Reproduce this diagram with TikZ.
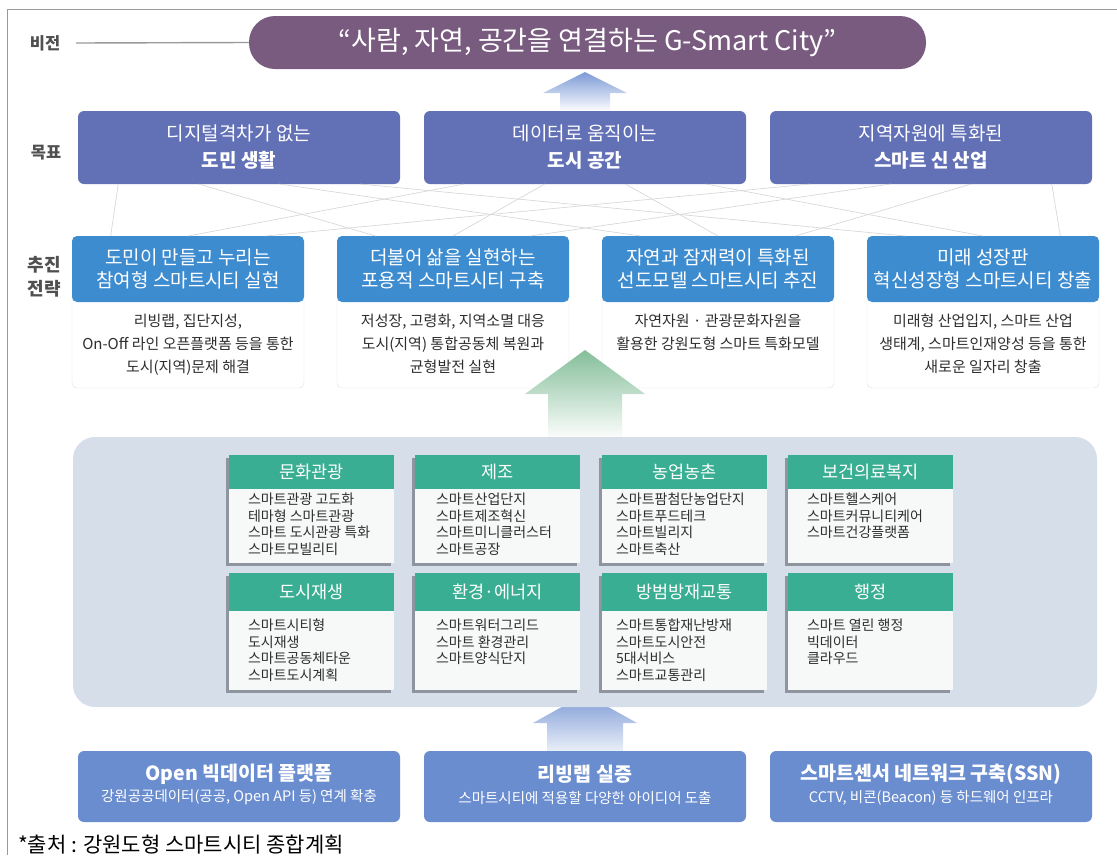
\documentclass[tikz,border=0pt]{standalone}
\usepackage{fontspec}
\setmainfont{Noto Sans CJK KR}
\usetikzlibrary{calc}
\definecolor{visionC}{HTML}{7A5B80}
\definecolor{goalC}{HTML}{6270B6}
\definecolor{stratC}{HTML}{3E8CD0}
\definecolor{secC}{HTML}{3AAE93}
\definecolor{panelC}{HTML}{D6DEE9}
\definecolor{secBody}{HTML}{F7F8F8}
\definecolor{shadowC}{HTML}{8E959F}
\definecolor{baseC}{HTML}{6A8DD0}
\definecolor{labelC}{HTML}{505050}
\definecolor{bodyT}{HTML}{2E2E2E}
\definecolor{arrBlue}{HTML}{7C9AD6}
\definecolor{arrGreen}{HTML}{84BE99}
\definecolor{frameC}{HTML}{9A9A9A}
\newcommand\sectorbox[9]{%
  \fill[shadowC] (#2-3,#3+3) rectangle (#2+165-3,#3+#4+#5+3);
  \node[secb, minimum height=#5pt] (#1b) at (#2,#3+#4) {};
  \node[sech, minimum height=#4pt] (#1h) at (#2,#3) {#6};
  \node[sect] (#1t) at ($(#1b.north west)+(#9,#8)$) {#7};
}
\newcommand\stratbox[4]{%
  \node[strb] (#1b) at (#2,296) {};
  \node[strh] (#1) at (#2,236) {#3};
  \node[strt] (#1t) at ($(#1b.north)+(0,18)$) {#4};
}
\begin{document}
\begin{tikzpicture}[x=1pt,y=-1pt,
  every node/.style={inner sep=0pt, outer sep=0pt},
  lbl/.style={text=labelC, font=\bfseries\fontsize{16.5}{24}\selectfont, align=center},
  goal/.style={fill=goalC, rounded corners=6pt, minimum width=322pt, minimum height=73pt, anchor=north west, text=white, align=center, font=\fontsize{19}{27}\selectfont},
  strh/.style={fill=stratC, rounded corners=5pt, minimum width=232pt, minimum height=66pt, anchor=north west, text=white, align=center, font=\fontsize{19}{23}\selectfont},
  strb/.style={fill=white, draw=black!12, rounded corners=5pt, minimum width=232pt, minimum height=92pt, anchor=north west},
  strt/.style={anchor=north, align=center, text=bodyT, font=\fontsize{15}{23}\selectfont},
  sech/.style={fill=secC, minimum width=165pt, anchor=north west, text=white, font=\fontsize{17.5}{20}\selectfont},
  secb/.style={fill=secBody, minimum width=165pt, anchor=north west},
  sect/.style={anchor=north west, align=left, text=bodyT, font=\fontsize{14}{16.5}\selectfont},
  base/.style={fill=baseC, rounded corners=6pt, minimum width=322pt, minimum height=71pt, anchor=north west},
  basetitle/.style={text=white, font=\bfseries\fontsize{19.5}{22}\selectfont},
  basesub/.style={text=white, font=\fontsize{14.5}{16}\selectfont},
  latt/.style={draw=black!17, line width=0.6pt},
]
\useasboundingbox (0,0) rectangle (1117,855);
\fill[white] (0,0) rectangle (1117,855);
% frame
\draw[frameC, line width=1pt] (7,855) -- (7,9) -- (1117,9);

% vision
\node[fill=visionC, rounded corners=26pt, minimum width=677pt, minimum height=53pt, anchor=north west, text=white, font=\fontsize{27}{30}\selectfont] (vision) at (249,16) {“사람, 자연, 공간을 연결하는 G-Smart City”};
\node[lbl] (lv) at (45,43) {비전};
\draw[frameC, line width=1.4pt] ([xshift=16pt]lv.east) -- (vision.west);

% arrow vision <- goals
\shade[top color=arrBlue, bottom color=white] (585,72) -- (627,93) -- (610,93) -- (610,112) -- (560,112) -- (560,93) -- (543,93) -- cycle;

% goals
\node[lbl] (lg) at (46,153) {목표};
\node[goal] (g1) at (78,111) {디지털격차가 없는\\\textbf{도민 생활}};
\node[goal] (g2) at (424,111) {데이터로 움직이는\\\textbf{도시 공간}};
\node[goal] (g3) at (770,111) {지역자원에 특화된\\\textbf{스마트 신 산업}};

% strategies
\node[lbl, font=\bfseries\fontsize{18}{24}\selectfont] (ls) at (44,277) {추진\\전략};
\stratbox{st1}{72}{도민이 만들고 누리는\\참여형 스마트시티 실현}{리빙랩, 집단지성,\\On-Off 라인 오픈플랫폼 등을 통한\\도시(지역)문제 해결}
\stratbox{st2}{337}{더불어 삶을 실현하는\\포용적 스마트시티 구축}{저성장, 고령화, 지역소멸 대응\\도시(지역) 통합공동체 복원과\\균형발전 실현}
\stratbox{st3}{602}{자연과 잠재력이 특화된\\선도모델 스마트시티 추진}{자연자원 · 관광문화자원을\\활용한 강원도형 스마트 특화모델}
\stratbox{st4}{867}{미래 성장판\\혁신성장형 스마트시티 창출}{미래형 산업입지, 스마트 산업\\생태계, 스마트인재양성 등을 통한\\새로운 일자리 창출}

% lattice lines between goals and strategies
\foreach \g in {1,2,3}{
  \foreach \s in {1,2,3,4}{
    \draw[latt] ($(g\g.south west)!{(\s-0.5)/4}!(g\g.south east)$) -- ($(st\s.north west)!{(\g-0.5)/3}!(st\s.north east)$);
  }
}

% green arrow
\shade[top color=arrGreen, bottom color=white] (585,350) -- (645,394) -- (622,394) -- (622,440) -- (548,440) -- (548,394) -- (525,394) -- cycle;

% bottom blue arrow (behind panel)
\shade[top color=arrBlue, bottom color=white!85!arrBlue] (585,694) -- (637,723) -- (623,723) -- (623,752) -- (547,752) -- (547,723) -- (533,723) -- cycle;

% panel
\node[fill=panelC, rounded corners=22pt, minimum width=1024pt, minimum height=270pt, anchor=north west] (panel) at (73,437) {};

% sectors row 1
\sectorbox{sa}{229}{455}{34}{74}{문화관광}{스마트관광 고도화\\테마형 스마트관광\\스마트 도시관광 특화\\스마트모빌리티}{4}{19}
\sectorbox{sb}{415}{455}{34}{74}{제조}{스마트산업단지\\스마트제조혁신\\스마트미니클러스터\\스마트공장}{4}{21}
\sectorbox{sc}{602}{455}{34}{74}{농업농촌}{스마트팜첨단농업단지\\스마트푸드테크\\스마트빌리지\\스마트축산}{4}{14}
\sectorbox{sd}{788}{455}{34}{74}{보건의료복지}{스마트헬스케어\\스마트커뮤니티케어\\스마트건강플랫폼}{4}{19}
% sectors row 2
\sectorbox{se}{229}{573}{38}{79}{도시재생}{스마트시티형\\도시재생\\스마트공동체타운\\스마트도시계획}{8}{19}
\sectorbox{sf}{415}{573}{38}{79}{환경·에너지}{스마트워터그리드\\스마트 환경관리\\스마트양식단지}{8}{21}
\sectorbox{sg}{602}{573}{38}{79}{방범방재교통}{스마트통합재난방재\\스마트도시안전\\5대서비스\\스마트교통관리}{8}{14}
\sectorbox{sh}{788}{573}{38}{79}{행정}{스마트 열린 행정\\빅데이터\\클라우드}{8}{19}

% base boxes
\node[base] (b1) at (78,751) {};
\node[base] (b2) at (424,751) {};
\node[base] (b3) at (770,751) {};
\node[basetitle] (b1t) at ($(b1.center)+(0,-12)$) {Open 빅데이터 플랫폼};
\node[basesub] (b1s) at ($(b1.center)+(0,11)$) {강원공공데이터(공공, Open API 등) 연계 확충};
\node[basetitle] (b2t) at ($(b2.center)+(0,-12)$) {리빙랩 실증};
\node[basesub] (b2s) at ($(b2.center)+(0,11)$) {스마트시티에 적용할 다양한 아이디어 도출};
\node[basetitle] (b3t) at ($(b3.center)+(0,-12)$) {스마트센서 네트워크 구축(SSN)};
\node[basesub] (b3s) at ($(b3.center)+(0,11)$) {CCTV, 비콘(Beacon) 등 하드웨어 인프라};

% source
\node[anchor=base west, text=black, font=\fontsize{21}{24}\selectfont] (src) at (18,852) {*출처 : 강원도형 스마트시티 종합계획};
\end{tikzpicture}
\end{document}
